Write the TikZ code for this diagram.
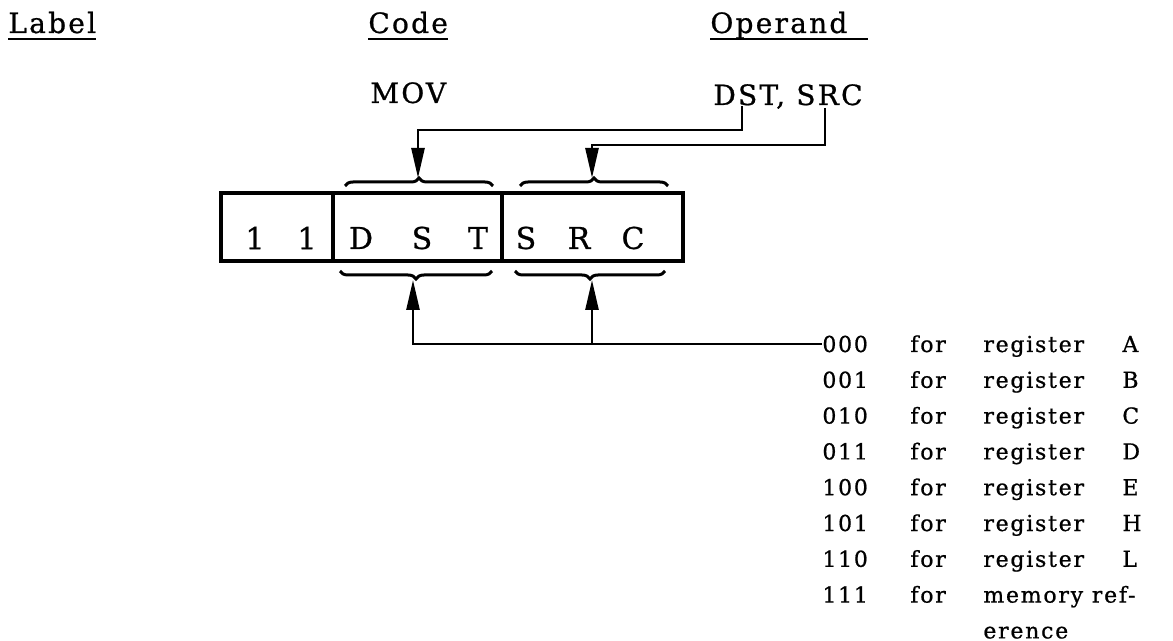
\documentclass[tikz,border=0pt]{standalone}
\usepackage{fontspec}
\usetikzlibrary{arrows.meta,positioning,decorations.pathreplacing}
\newfontfamily\twfont{DejaVu Serif}[LetterSpace=8,FakeBold=0.8]
\tikzset{
  >={Triangle[length=15pt,width=6.5pt]},
  hdr/.style={anchor=base west, inner sep=0pt, font=\fontsize{14}{16}\twfont},
  cell/.style={draw, line width=2pt, minimum height=34pt, inner sep=0pt, outer sep=0pt},
  bit/.style={inner sep=0pt, font=\fontsize{15}{17}\twfont},
  tbl/.style={anchor=base west, inner sep=0pt, font=\fontsize{11}{13}\twfont},
  ulin/.style={line width=1.3pt},
  conn/.style={line width=1.3pt},
  brc/.style={decorate, decoration={brace, amplitude=4pt}, line width=1.5pt},
}
\begin{document}
\begin{tikzpicture}[x=0.5pt,y=-0.5pt]
  \useasboundingbox (0,0) rectangle (1173,641);
  % column headings
  \node[hdr] (lab) at (8,33) {Label};
  \node[hdr] (cod) at (368,33) {Code};
  \node[hdr] (opr) at (710,33) {Operand};
  \foreach \n in {lab,cod}
    \draw[ulin] ([yshift=-3pt]\n.base west) -- ([yshift=-3pt]\n.base east);
  \draw[ulin] ([yshift=-3pt]opr.base west) -- ([shift={(10pt,-3pt)}]opr.base east);
  % the statement
  \node[hdr] (mov) at (370,103) {MOV};
  \node[hdr] (ops) at (713,105) {DST, SRC};
  % instruction word
  \node[cell, minimum width=56pt] (fix) at (277,227) {};
  \node[cell, minimum width=84.5pt, right=0pt of fix] (dst) {};
  \node[cell, minimum width=90.5pt, right=0pt of dst] (src) {};
  \foreach \ch/\x [count=\i] in {1/255,1/307,D/361,S/422,T/478,S/526,R/579,C/633}
    \node[bit] (b\i) at (\x,238) {\ch};
  % braces
  \draw[brc] (345,186) -- (493,186);
  \draw[brc] (520,186) -- (668,186);
  \draw[brc] (492,271) -- (340,271);
  \draw[brc] (665,271) -- (515,271);
  \coordinate (dstIn) at (418,178);
  \coordinate (srcIn) at (592,178);
  \coordinate (dstOut) at (413,280);
  \coordinate (srcOut) at (592,280);
  \coordinate (dstTap) at (742,106);
  \coordinate (srcTap) at (825,108);
  % operand fields into the word
  \draw[conn,->] (dstTap) -- ++(0,24) -| (dstIn);
  \draw[conn,->] (srcTap) -- ++(0,37) -| (srcIn);
  % register codes
  \foreach \cd/\rg [count=\i] in {000/A,001/B,010/C,011/D,100/E,101/H,110/L}{
    \pgfmathsetmacro\yy{352+35.8*(\i-1)}
    \node[tbl] (c\i) at (822,\yy) {\cd};
    \node[tbl] (f\i) at (910,\yy) {for};
    \node[tbl] (r\i) at (983,\yy) {register};
    \node[tbl] (n\i) at (1122,\yy) {\rg};
  }
  \node[tbl] (c8) at (822,602.6) {111};
  \node[tbl] (f8) at (910,602.6) {for};
  \node[tbl] (r8) at (983,602.6) {memory ref-};
  \node[tbl] (r9) at (983,638.4) {erence};
  \coordinate (tee) at (srcOut |- c1.west);
  \draw[conn,->] (c1.west) -| (dstOut);
  \draw[conn,->] (tee) -- (srcOut);
\end{tikzpicture}
\end{document}
